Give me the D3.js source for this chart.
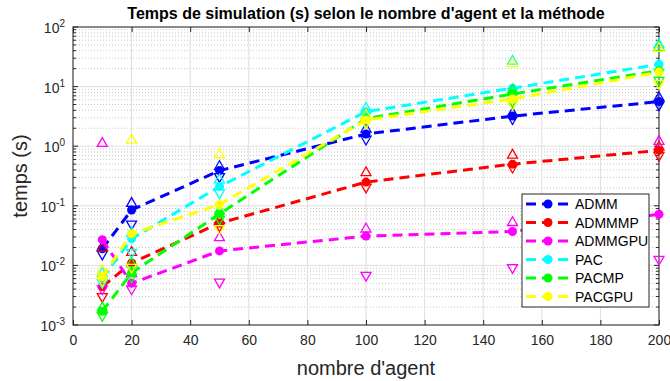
<!DOCTYPE html>
<html lang="fr">
<head>
<meta charset="UTF-8">
<title>Temps de simulation</title>
<script src="https://cdnjs.cloudflare.com/ajax/libs/d3/7.8.5/d3.min.js"></script>
<style>
  body { margin: 0; background: #fff; }
  text { font-family: "Liberation Sans", Arial, sans-serif; }
</style>
</head>
<body>
<div id="chart"></div>
<script>
// nombre d'agents
var agents = [10, 20, 50, 100, 150, 200];
var seriesNames = ["ADMM", "ADMMMP", "ADMMGPU", "PAC", "PACMP", "PACGPU"];
var seriesColors = ["#0000ff", "#ff0000", "#ff00ff", "#00ffff", "#00ff00", "#ffff00"];

// moyenne (ronds), max (triangle haut), min (triangle bas)
var admmMean = [0.019, 0.085, 0.39, 1.6, 3.2, 5.6];
var admmMax = [0.021, 0.113, 0.47, 2.0, 3.7, 6.7];
var admmMin = [0.015, 0.048, 0.30, 1.27, 2.8, 4.8];

var admmmpMean = [0.0044, 0.011, 0.051, 0.25, 0.50, 0.85];
var admmmpMax = [0.020, 0.017, 0.058, 0.37, 0.73, 1.0];
var admmmpMin = [0.0029, 0.009, 0.045, 0.20, 0.43, 0.68];

var admmgpuMean = [0.027, 0.005, 0.0175, 0.031, 0.037, 0.072];
var admmgpuMax = [1.15, 0.0075, 0.030, 0.042, 0.054, 1.24];
var admmgpuMin = [0.0039, 0.0039, 0.0051, 0.0066, 0.0089, 0.0123];

var pacMean = [0.006, 0.028, 0.21, 3.8, 9.4, 23.7];
var pacMax = [0.0075, 0.036, 0.28, 4.5, 27.5, 52];
var pacMin = [0.005, 0.016, 0.16, 3.2, 8.0, 17];

var pacmpMean = [0.0017, 0.0075, 0.073, 2.9, 7.5, 18.5];
var pacmpMax = [0.002, 0.011, 0.085, 3.4, 9.0, 47];
var pacmpMin = [0.0014, 0.0062, 0.058, 2.5, 5.5, 12.4];

var pacgpuMean = [0.0065, 0.034, 0.105, 2.75, 6.2, 17.5];
var pacgpuMax = [0.0085, 1.3, 0.74, 3.4, 25, 45];
var pacgpuMin = [0.0054, 0.009, 0.040, 2.4, 4.9, 11];

var meanValues = [admmMean, admmmpMean, admmgpuMean, pacMean, pacmpMean, pacgpuMean];
var maxValues = [admmMax, admmmpMax, admmgpuMax, pacMax, pacmpMax, pacgpuMax];
var minValues = [admmMin, admmmpMin, admmgpuMin, pacMin, pacmpMin, pacgpuMin];

var xTicks = [0, 20, 40, 60, 80, 100, 120, 140, 160, 180, 200];
var yExponents = [-3, -2, -1, 0, 1, 2];

var width = 670, height = 381;
var margin = {left: 73, right: 11, top: 27, bottom: 56};
var plotW = width - margin.left - margin.right;
var plotH = height - margin.top - margin.bottom;

var svg = d3.select("#chart").append("svg")
  .attr("width", width)
  .attr("height", height);

var x = d3.scaleLinear().domain([0, 200]).range([0, plotW]);
var y = d3.scaleLog().domain([1e-3, 1e2]).range([plotH, 0]);

var g = svg.append("g").attr("transform", "translate(" + margin.left + "," + margin.top + ")");

// minor grid (dotted)
var minorVals = [];
yExponents.slice(0, -1).forEach(function(e) {
  for (var k = 2; k <= 9; k++) minorVals.push(k * Math.pow(10, e));
});
g.selectAll(".minor").data(minorVals).enter().append("line")
  .attr("x1", 0).attr("x2", plotW)
  .attr("y1", function(d) { return y(d); }).attr("y2", function(d) { return y(d); })
  .attr("stroke", "#c8c8c8").attr("stroke-width", 1).attr("stroke-dasharray", "1,2");

// major grid
g.selectAll(".hmajor").data(yExponents).enter().append("line")
  .attr("x1", 0).attr("x2", plotW)
  .attr("y1", function(d) { return y(Math.pow(10, d)); })
  .attr("y2", function(d) { return y(Math.pow(10, d)); })
  .attr("stroke", "#dedede").attr("stroke-width", 1);
g.selectAll(".vmajor").data(xTicks).enter().append("line")
  .attr("x1", function(d) { return x(d); }).attr("x2", function(d) { return x(d); })
  .attr("y1", 0).attr("y2", plotH)
  .attr("stroke", "#dedede").attr("stroke-width", 1);

// box + ticks
g.append("rect").attr("width", plotW).attr("height", plotH)
  .attr("fill", "none").attr("stroke", "#262626").attr("stroke-width", 1);

var xAxis = d3.axisBottom(x).tickValues(xTicks).tickSizeInner(-5).tickSizeOuter(0).tickPadding(10);
var gx = g.append("g").attr("transform", "translate(0," + plotH + ")").call(xAxis);
gx.select(".domain").remove();
gx.selectAll("line").attr("stroke", "#262626");
gx.selectAll("text").attr("font-size", 14).attr("fill", "#262626");

var gxTop = g.append("g").call(d3.axisTop(x).tickValues(xTicks).tickSizeInner(-5).tickSizeOuter(0).tickFormat(""));
gxTop.select(".domain").remove();
gxTop.selectAll("line").attr("stroke", "#262626");

// y ticks (major + minor, both sides)
[0, plotW].forEach(function(px, side) {
  var dir = side === 0 ? 1 : -1;
  g.selectAll(null).data(yExponents).enter().append("line")
    .attr("x1", px).attr("x2", px + dir * 5)
    .attr("y1", function(d) { return y(Math.pow(10, d)); })
    .attr("y2", function(d) { return y(Math.pow(10, d)); })
    .attr("stroke", "#262626");
  g.selectAll(null).data(minorVals).enter().append("line")
    .attr("x1", px).attr("x2", px + dir * 3)
    .attr("y1", function(d) { return y(d); }).attr("y2", function(d) { return y(d); })
    .attr("stroke", "#262626");
});

var yl = g.selectAll(".ylab").data(yExponents).enter().append("text")
  .attr("x", -8).attr("y", function(d) { return y(Math.pow(10, d)) + 6; })
  .attr("text-anchor", "end").attr("font-size", 14).attr("fill", "#262626");
yl.append("tspan").text("10");
yl.append("tspan").attr("dy", -6).attr("font-size", 10).text(function(d) { return d; });

// series
var lineGen = d3.line()
  .x(function(d) { return x(d[0]); })
  .y(function(d) { return y(d[1]); });

function triPath(up) {
  var s = 5;
  return up ? "M0," + (-s) + "L" + s + "," + (s * 0.75) + "L" + (-s) + "," + (s * 0.75) + "Z"
            : "M0," + s + "L" + s + "," + (-s * 0.75) + "L" + (-s) + "," + (-s * 0.75) + "Z";
}

var clip = svg.append("clipPath").attr("id", "plotclip").append("rect")
  .attr("width", plotW).attr("height", plotH);

seriesNames.forEach(function(name, i) {
  var col = seriesColors[i];
  var pts = agents.map(function(a, j) { return [a, meanValues[i][j]]; });
  var sg = g.append("g");
  sg.append("path").datum(pts)
    .attr("d", lineGen)
    .attr("fill", "none").attr("stroke", col).attr("stroke-width", 3)
    .attr("stroke-dasharray", "10,6")
    .attr("clip-path", "url(#plotclip)");
  sg.selectAll(".c").data(pts).enter().append("circle")
    .attr("cx", function(d) { return x(d[0]); })
    .attr("cy", function(d) { return y(d[1]); })
    .attr("r", 4.5).attr("fill", col);
  sg.selectAll(".up").data(agents.map(function(a, j) { return [a, maxValues[i][j]]; })).enter()
    .append("path").attr("d", triPath(true))
    .attr("transform", function(d) { return "translate(" + x(d[0]) + "," + y(d[1]) + ")"; })
    .attr("fill", "none").attr("stroke", col).attr("stroke-width", 1.3);
  sg.selectAll(".dn").data(agents.map(function(a, j) { return [a, minValues[i][j]]; })).enter()
    .append("path").attr("d", triPath(false))
    .attr("transform", function(d) { return "translate(" + x(d[0]) + "," + y(d[1]) + ")"; })
    .attr("fill", "none").attr("stroke", col).attr("stroke-width", 1.3);
});

// legend
var lg = svg.append("g").attr("transform", "translate(522,194)");
lg.append("rect").attr("width", 127).attr("height", 113)
  .attr("fill", "#fff").attr("stroke", "#262626").attr("stroke-width", 1);
seriesNames.forEach(function(name, i) {
  var yy = 10 + i * 18.5;
  lg.append("line").attr("x1", 4).attr("x2", 48).attr("y1", yy).attr("y2", yy)
    .attr("stroke", seriesColors[i]).attr("stroke-width", 3).attr("stroke-dasharray", "10,6");
  lg.append("circle").attr("cx", 26).attr("cy", yy).attr("r", 4.5).attr("fill", seriesColors[i]);
  lg.append("text").attr("x", 53).attr("y", yy + 5).attr("font-size", 14)
    .attr("fill", "#000").text(name);
});

// titles
svg.append("text").attr("x", margin.left + plotW / 2).attr("y", 19)
  .attr("text-anchor", "middle").attr("font-size", 16).attr("font-weight", "bold")
  .attr("fill", "#000").text("Temps de simulation (s) selon le nombre d'agent et la méthode");
svg.append("text").attr("x", margin.left + plotW / 2).attr("y", 375)
  .attr("text-anchor", "middle").attr("font-size", 20).attr("fill", "#262626")
  .text("nombre d'agent");
svg.append("text").attr("transform", "translate(27," + (margin.top + plotH / 2) + ") rotate(-90)")
  .attr("text-anchor", "middle").attr("font-size", 20).attr("fill", "#262626")
  .text("temps (s)");
</script>
</body>
</html>
